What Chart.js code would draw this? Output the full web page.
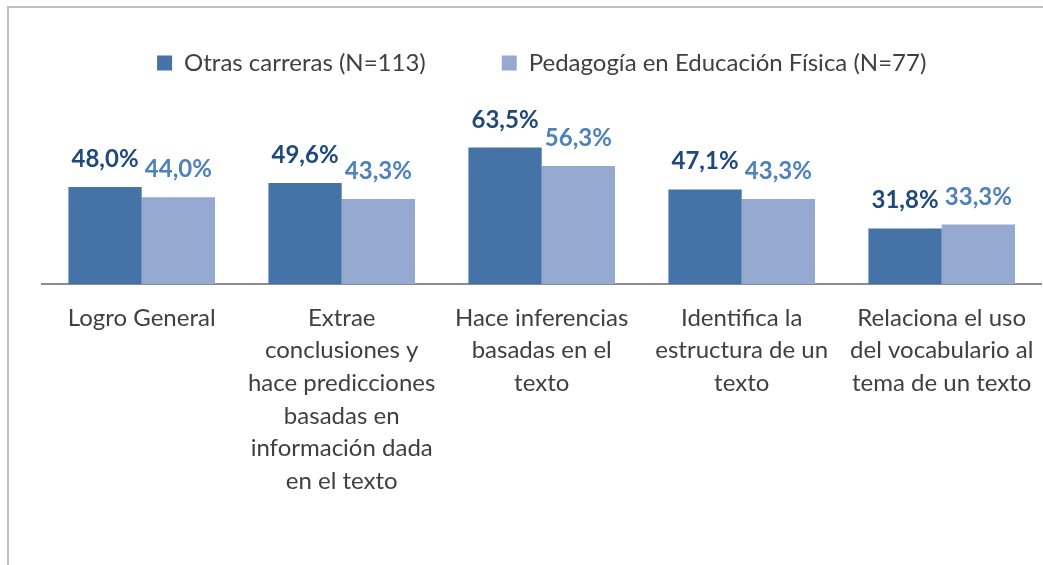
<!DOCTYPE html>
<html>
<head>
<meta charset="utf-8">
<script src="https://cdn.jsdelivr.net/npm/chart.js@4"></script>
<style>
  html, body { margin: 0; padding: 0; background: #ffffff; }
  #wrap { position: relative; width: 1043px; height: 565px; overflow: hidden; }
  #frame { position: absolute; left: 7px; top: 6px; width: 1100px; height: 700px;
           border-left: 2px solid #BFBFBF; border-top: 2px solid #BFBFBF; box-sizing: border-box; }
  canvas { position: absolute; left: 0; top: 0; }
</style>
</head>
<body>
<div id="wrap">
  <div id="frame"></div>
  <canvas id="c" width="1043" height="565"></canvas>
</div>
<script>
const categories = [
  ["Logro General"],
  ["Extrae", "conclusiones y", "hace predicciones", "basadas en", "información dada", "en el texto"],
  ["Hace inferencias", "basadas en el", "texto"],
  ["Identifica la", "estructura de un", "texto"],
  ["Relaciona el uso", "del vocabulario al", "tema de un texto"]
];
const seriesNames = ["Otras carreras (N=113)", "Pedagogía en Educación Física (N=77)"];
const otrasCarreras = [48.0, 49.6, 63.5, 47.1, 31.8];
const pedagogiaEF = [44.0, 43.3, 56.3, 43.3, 33.3];

const FONT = "Lato, 'Open Sans', 'Liberation Sans', sans-serif";
const barColors = ["#4572A7", "#95A9D1"];
const labelColors = ["#1F497D", "#4F81BD"];

const fmt = v => v.toFixed(1).replace('.', ',') + '%';

const valueLabels = {
  id: 'valueLabels',
  afterDatasetsDraw(chart) {
    const ctx = chart.ctx;
    ctx.save();
    ctx.font = "bold 24px " + FONT;
    ctx.textAlign = 'center';
    ctx.textBaseline = 'alphabetic';
    chart.data.datasets.forEach((ds, di) => {
      const meta = chart.getDatasetMeta(di);
      ctx.fillStyle = labelColors[di];
      meta.data.forEach((bar, i) => {
        ctx.fillText(fmt(ds.data[i]), bar.x, bar.y - 20);
      });
    });
    ctx.restore();
  }
};

new Chart(document.getElementById('c'), {
  type: 'bar',
  data: {
    labels: categories,
    datasets: [
      { label: seriesNames[0], data: otrasCarreras, backgroundColor: barColors[0] },
      { label: seriesNames[1], data: pedagogiaEF, backgroundColor: barColors[1] }
    ]
  },
  options: {
    responsive: false,
    animation: false,
    events: [],
    layout: { padding: { left: 41.7, right: 1.3, top: -25, bottom: 0 } },
    datasets: { bar: { barPercentage: 1.0, categoryPercentage: 0.733, borderWidth: 0 } },
    plugins: {
      legend: {
        position: 'top',
        labels: {
          boxWidth: 15, boxHeight: 15, padding: 76,
          color: '#404040',
          font: { family: FONT, size: 24 }
        }
      },
      title: {
        display: true, text: '', position: 'top', weight: 500,
        font: { size: 1, lineHeight: 1 }, padding: { top: 45, bottom: 0 }
      },
      tooltip: { enabled: false }
    },
    scales: {
      x: {
        grid: { display: false, drawTicks: false },
        border: { display: true, color: '#8C8C8C', width: 2 },
        ticks: {
          color: '#404040', padding: 17.7, maxRotation: 0, autoSkip: false,
          font: { family: FONT, size: 24, lineHeight: '32.6px' }
        },
        afterFit(scale) {
          scale.height = 281;
          scale.paddingLeft = 0;
          scale.paddingRight = 0;
        }
      },
      y: { display: false, min: 10, max: 70 }
    }
  },
  plugins: [valueLabels]
});
</script>
</body>
</html>
